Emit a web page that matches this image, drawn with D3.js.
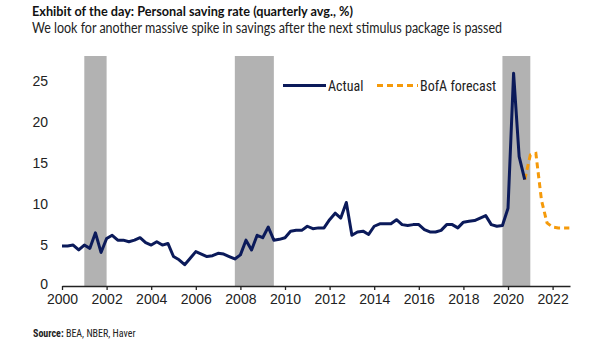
<!DOCTYPE html>
<html>
<head>
<meta charset="utf-8">
<script src="https://cdn.jsdelivr.net/npm/d3@7"></script>
<style>
  body { margin: 0; background: #fff; }
  svg { font-family: "Liberation Sans Narrow", "Roboto Condensed", "Open Sans", sans-serif; }
</style>
</head>
<body>
<div id="plot_area"></div>
<script>
// quarterly data, 2000Q1 .. 2020Q4
var actualValues = [
  4.9, 4.9, 5.0, 4.4,   5.0, 4.6, 6.5, 4.1,   5.8, 6.2, 5.6, 5.6,
  5.4, 5.6, 5.9, 5.3,   5.0, 5.4, 5.0, 5.2,   3.6, 3.2, 2.6, 3.4,
  4.2, 3.9, 3.6, 3.7,   4.0, 3.9, 3.6, 3.3,   3.8, 5.6, 4.4, 6.2,
  5.9, 7.2, 5.6, 5.7,   5.9, 6.7, 6.8, 6.8,   7.3, 7.0, 7.1, 7.1,
  8.1, 8.9, 8.3, 10.2,  6.2, 6.6, 6.7, 6.3,   7.3, 7.6, 7.6, 7.6,
  8.1, 7.5, 7.4, 7.5,   7.5, 6.9, 6.6, 6.6,   6.8, 7.5, 7.5, 7.1,
  7.8, 7.9, 8.0, 8.3,   8.6, 7.5, 7.3, 7.4,   9.5, 26.0, 15.8, 13.0
]
var forecastStart = 2020.75
var forecastValues = [13.0, 16.0, 16.2, 10.5, 7.7, 7.2, 7.1, 7.1, 7.1]

var recessions = [[2001.0, 2002.0], [2007.75, 2009.5], [2019.75, 2021.0]]
var xTicks = [2000, 2002, 2004, 2006, 2008, 2010, 2012, 2014, 2016, 2018, 2020, 2022]
var yTicks = [0, 5, 10, 15, 20, 25]

var titleText = "Exhibit of the day: Personal saving rate (quarterly avg., %)"
var subtitleText = "We look for another massive spike in savings after the next stimulus package is passed"

var W = 605, H = 341
var navy = "#0b1a5a", orange = "#f59a0a", band = "#b2b2b2"

var svg = d3.select("#plot_area")
  .append("svg")
    .attr("width", W)
    .attr("height", H)

var x = d3.scaleLinear()
  .domain([2000, 2022.78])
  .range([62, 570])

var y = d3.scaleLinear()
  .domain([0, 28.1])
  .range([286, 56])

// recession shading
svg.selectAll(".band")
  .data(recessions)
  .enter()
  .append("rect")
    .attr("class", "band")
    .attr("x", function(d) { return x(d[0]) })
    .attr("width", function(d) { return x(d[1]) - x(d[0]) })
    .attr("y", y(28.1))
    .attr("height", y(0) - y(28.1))
    .style("fill", band)

// y axis, labels only
var yAxis = svg.append("g")
  .attr("transform", "translate(48,0)")
  .call(d3.axisLeft(y).tickValues(yTicks).tickSize(0).tickPadding(0))
yAxis.select(".domain").remove()
yAxis.selectAll("text")
  .style("font-size", "14px")
  .style("fill", "#222")
  .style("font-family", "Liberation Sans Narrow, sans-serif")
yAxis.selectAll(".tick").filter(function(d) { return d === 0 })
  .select("text").attr("dy", "0.2em")

// x axis
var xAxis = svg.append("g")
  .attr("transform", "translate(0," + y(0) + ")")
  .call(d3.axisBottom(x).tickValues(xTicks).tickFormat(d3.format("d")).tickSize(4).tickSizeOuter(0).tickPadding(4))
xAxis.select(".domain").attr("stroke", "#222").attr("stroke-width", 1.3)
xAxis.selectAll(".tick line").attr("stroke", "#222").attr("stroke-width", 1.3)
xAxis.selectAll("text")
  .style("font-size", "14px")
  .style("fill", "#222")
  .style("font-family", "Liberation Sans Narrow, sans-serif")

var line = d3.line()
  .x(function(d) { return x(d.t) })
  .y(function(d) { return y(d.v) })

var actual = actualValues.map(function(v, i) { return {t: 2000 + i / 4, v: v} })
var forecast = forecastValues.map(function(v, i) { return {t: forecastStart + i / 4, v: v} })

svg.append("path")
  .datum(forecast)
  .attr("d", line)
  .style("fill", "none")
  .style("stroke", orange)
  .style("stroke-width", 3)
  .style("stroke-dasharray", "6,4")

svg.append("path")
  .datum(actual)
  .attr("d", line)
  .style("fill", "none")
  .style("stroke", navy)
  .style("stroke-width", 3)
  .style("stroke-linejoin", "round")

// legend
var legend = svg.append("g")
legend.append("line")
  .attr("x1", 283).attr("x2", 326).attr("y1", 85.5).attr("y2", 85.5)
  .style("stroke", navy).style("stroke-width", 3)
legend.append("text")
  .attr("x", 328).attr("y", 90.5)
  .text("Actual")
  .style("font-size", "14px").style("fill", "#222")
legend.append("line")
  .attr("x1", 377).attr("x2", 418).attr("y1", 85.5).attr("y2", 85.5)
  .style("stroke", orange).style("stroke-width", 3).style("stroke-dasharray", "6,4")
legend.append("text")
  .attr("x", 420).attr("y", 90.5)
  .text("BofA forecast")
  .style("font-size", "14px").style("fill", "#222")

// titles
svg.append("text")
  .attr("x", 32).attr("y", 16)
  .attr("textLength", 321).attr("lengthAdjust", "spacingAndGlyphs")
  .text(titleText)
  .style("font-family", "Lato, sans-serif")
  .style("font-size", "13.5px").style("font-weight", "bold").style("fill", "#111")
svg.append("text")
  .attr("x", 32).attr("y", 33)
  .attr("textLength", 470).attr("lengthAdjust", "spacingAndGlyphs")
  .text(subtitleText)
  .style("font-family", "Lato, sans-serif")
  .style("font-size", "14.5px").style("fill", "#222")

// source
var src = svg.append("text")
  .attr("x", 33).attr("y", 337)
  .style("font-size", "10px").style("fill", "#222")
src.append("tspan").text("Source:").style("font-weight", "bold")
src.append("tspan").text("  BEA, NBER, Haver")
</script>
</body>
</html>
